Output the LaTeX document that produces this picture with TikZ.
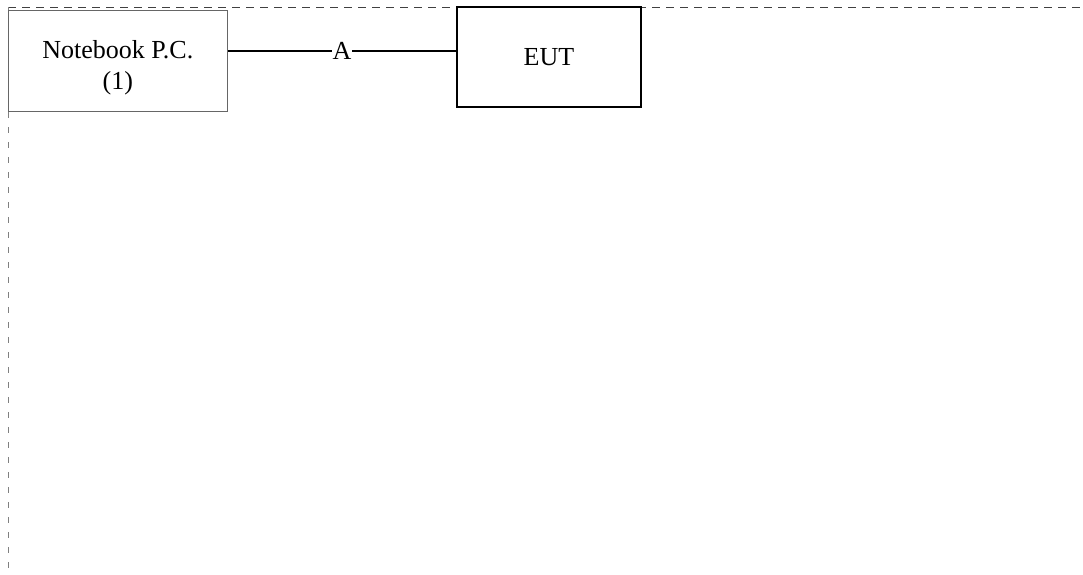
\documentclass[tikz,border=0pt]{standalone}
\usepackage{fontspec}
\setmainfont{Liberation Serif}
\begin{document}
\begin{tikzpicture}[x=1pt,y=-1pt,
  txt/.style={font=\fontsize{26}{31}\selectfont, text=black},
  pcbox/.style={draw=black!60, line width=1pt, minimum width=219.5pt, minimum height=101pt, inner sep=0pt},
  eutbox/.style={draw=black, line width=2pt, minimum width=184pt, minimum height=100pt, inner sep=0pt, txt},
  frame/.style={dashed, dash pattern=on 8pt off 6pt, line width=1pt},
  link/.style={draw=black, line width=1.5pt}]
\useasboundingbox (0,0) rectangle (1083,574);
\coordinate (tl) at (8,7);
\coordinate (tr) at (1083,7);
\coordinate (bl) at (8,574);
\draw[frame, draw=black!75] (tl) -- (tr);
\draw[frame, draw=black!50, dash pattern=on 6pt off 9pt] (tl) -- (bl);
\node[pcbox, fill=white, label={[txt, align=center, yshift=-7.5pt]center:Notebook P.C.\\(1)}] (nb) at (117.75,60.5) {};
\node[eutbox, fill=white] (eut) at (549,57) {EUT};
\draw[link] ([yshift=9.5pt]nb.east) -- node[fill=white, inner sep=1pt, txt]{A} ([yshift=6pt]eut.west);
\end{tikzpicture}
\end{document}
